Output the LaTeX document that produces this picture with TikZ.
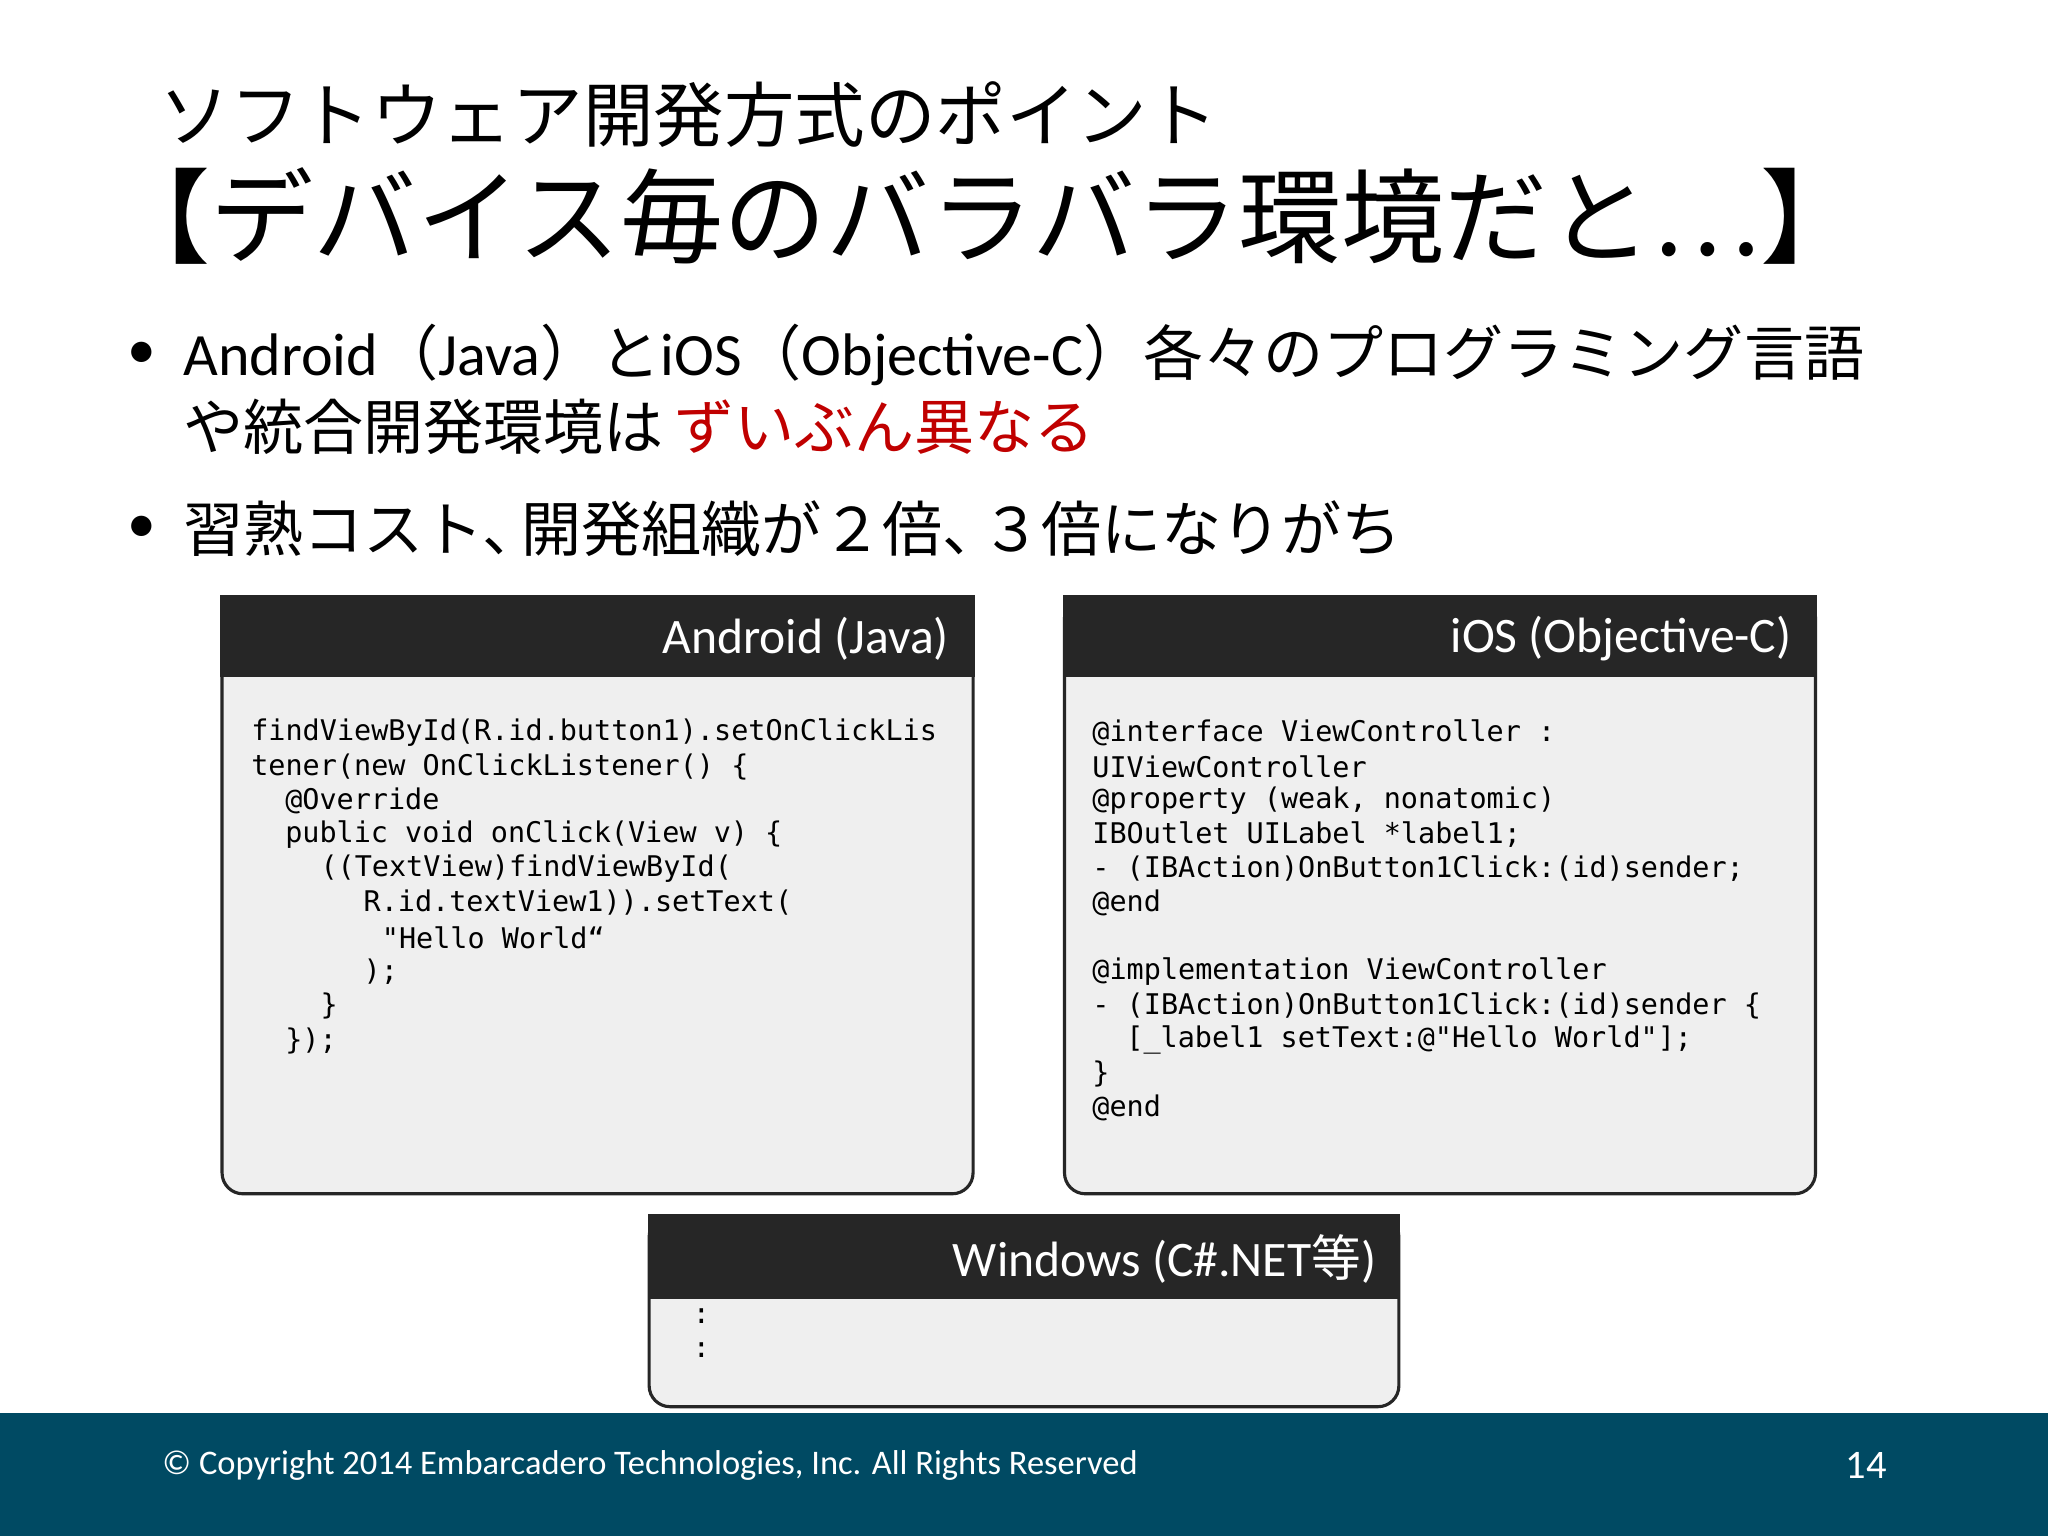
\documentclass[tikz,border=0pt]{standalone}
\usepackage{fontspec}
\setmainfont{Carlito}
\newfontfamily\jp{Noto Sans CJK JP}
\newfontfamily\codef{DejaVu Sans Mono}
\definecolor{hdr}{HTML}{262626}
\definecolor{bodyc}{HTML}{EFEFEF}
\definecolor{foot}{HTML}{004A63}
\definecolor{redt}{HTML}{C00000}
\begin{document}
\begin{tikzpicture}[x=0.5pt,y=-0.5pt,
  code/.style={anchor=west,inner sep=0pt,font=\codef\fontsize{10.9}{12}\selectfont},
  htitle/.style={anchor=east,text=white,inner sep=0pt,font=\fontsize{19}{22}\selectfont},
  bodybox/.style={fill=bodyc,draw=hdr,line width=1.2pt,rounded corners=8pt},
  hbox/.style={fill=hdr,draw=hdr,line width=1.2pt},
  txt/.style={anchor=west,inner sep=0pt}]
\useasboundingbox (0,0) rectangle (1568,1176);
\fill[white] (0,0) rectangle (1568,1176);
% titles
\node[txt,font=\jp\fontsize{27}{30}\selectfont] (t1) at (122,88) {ソフトウェア開発方式のポイント};
\node[txt,font=\jp\fontsize{39.5}{44}\selectfont] (t2) at (82,165) {【デバイス毎のバラバラ環境だと…】};
% bullets
\node[txt,font=\fontsize{22}{26}\selectfont] (b1) at (97,272) {•};
\node[txt,font=\jp\fontsize{23}{26}\selectfont] (l1) at (140,272) {{\fontspec{Carlito}Android}（{\fontspec{Carlito}Java}）と{\fontspec{Carlito}iOS}（{\fontspec{Carlito}Objective-C}）各々のプログラミング言語};
\node[txt,font=\jp\fontsize{23}{26}\selectfont] (l2) at (140,327) {や統合開発環境は\,\textcolor{redt}{ずいぶん異なる}};
\node[txt,font=\fontsize{22}{26}\selectfont] (b2) at (97,405) {•};
\node[txt,font=\jp\fontsize{23}{26}\selectfont] (l3) at (140,405) {習熟コスト、\kern-0.35em開発組織が２倍、\kern-0.35em３倍になりがち};
% Android box
\path[bodybox] (170,457) rectangle (745,914);
\path[hbox] (170,457) rectangle (745,517);
\node[htitle] (ah) at (727,489) {Android (Java)};
\node[code] (a1) at (192,561) {findViewById(R.id.button1).setOnClickLis};
\node[code] (a2) at (192,587) {tener(new OnClickListener() \{};
\node[code] (a3) at (218,613) {@Override};
\node[code] (a4) at (218,639) {public void onClick(View v) \{};
\node[code] (a5) at (245,665) {((TextView)findViewById(};
\node[code] (a6) at (278,691) {R.id.textView1)).setText(};
\node[code] (a7) at (292,718) {"Hello World“};
\node[code] (a8) at (278,744) {);};
\node[code] (a9) at (245,770) {\}};
\node[code] (a10) at (218,797) {\});};
% iOS box
\path[bodybox] (815,457) rectangle (1390,914);
\path[hbox] (815,457) rectangle (1390,517);
\node[htitle] (ih) at (1372,489) {iOS (Objective-C)};
\node[code] (i1) at (836,561) {@interface ViewController :};
\node[code] (i2) at (836,587) {UIViewController};
\node[code] (i3) at (836,613) {@property (weak, nonatomic)};
\node[code] (i4) at (836,639) {IBOutlet UILabel *label1;};
\node[code] (i5) at (836,665) {- (IBAction)OnButton1Click:(id)sender;};
\node[code] (i6) at (836,691) {@end};
\node[code] (i7) at (836,744) {@implementation ViewController};
\node[code] (i8) at (836,770) {- (IBAction)OnButton1Click:(id)sender \{};
\node[code] (i9) at (862,796) {[\_label1 setText:@"Hello World"];};
\node[code] (i10) at (836,822) {\}};
\node[code] (i11) at (836,848) {@end};
% Windows box
\path[bodybox] (497,931) rectangle (1071,1077);
\path[hbox] (497,931) rectangle (1071,993);
\node[htitle,font=\jp\fontsize{19}{22}\selectfont] (wh) at (1054,964) {{\fontspec{Carlito}Windows (C\#.NET}等{\fontspec{Carlito})}};
\node[code] (w1) at (530,1008) {:};
\node[code] (w2) at (530,1034) {:};
% footer
\fill[foot] (0,1082) rectangle (1568,1176);
\node[txt,text=white,font=\fontsize{13.2}{15}\selectfont] (cp) at (124,1122) {© Copyright 2014 Embarcadero Technologies, Inc. All Rights Reserved};
\node[anchor=east,inner sep=0pt,text=white,font=\fontsize{15.5}{18}\selectfont] (pg) at (1445,1122) {14};
\end{tikzpicture}
\end{document}
